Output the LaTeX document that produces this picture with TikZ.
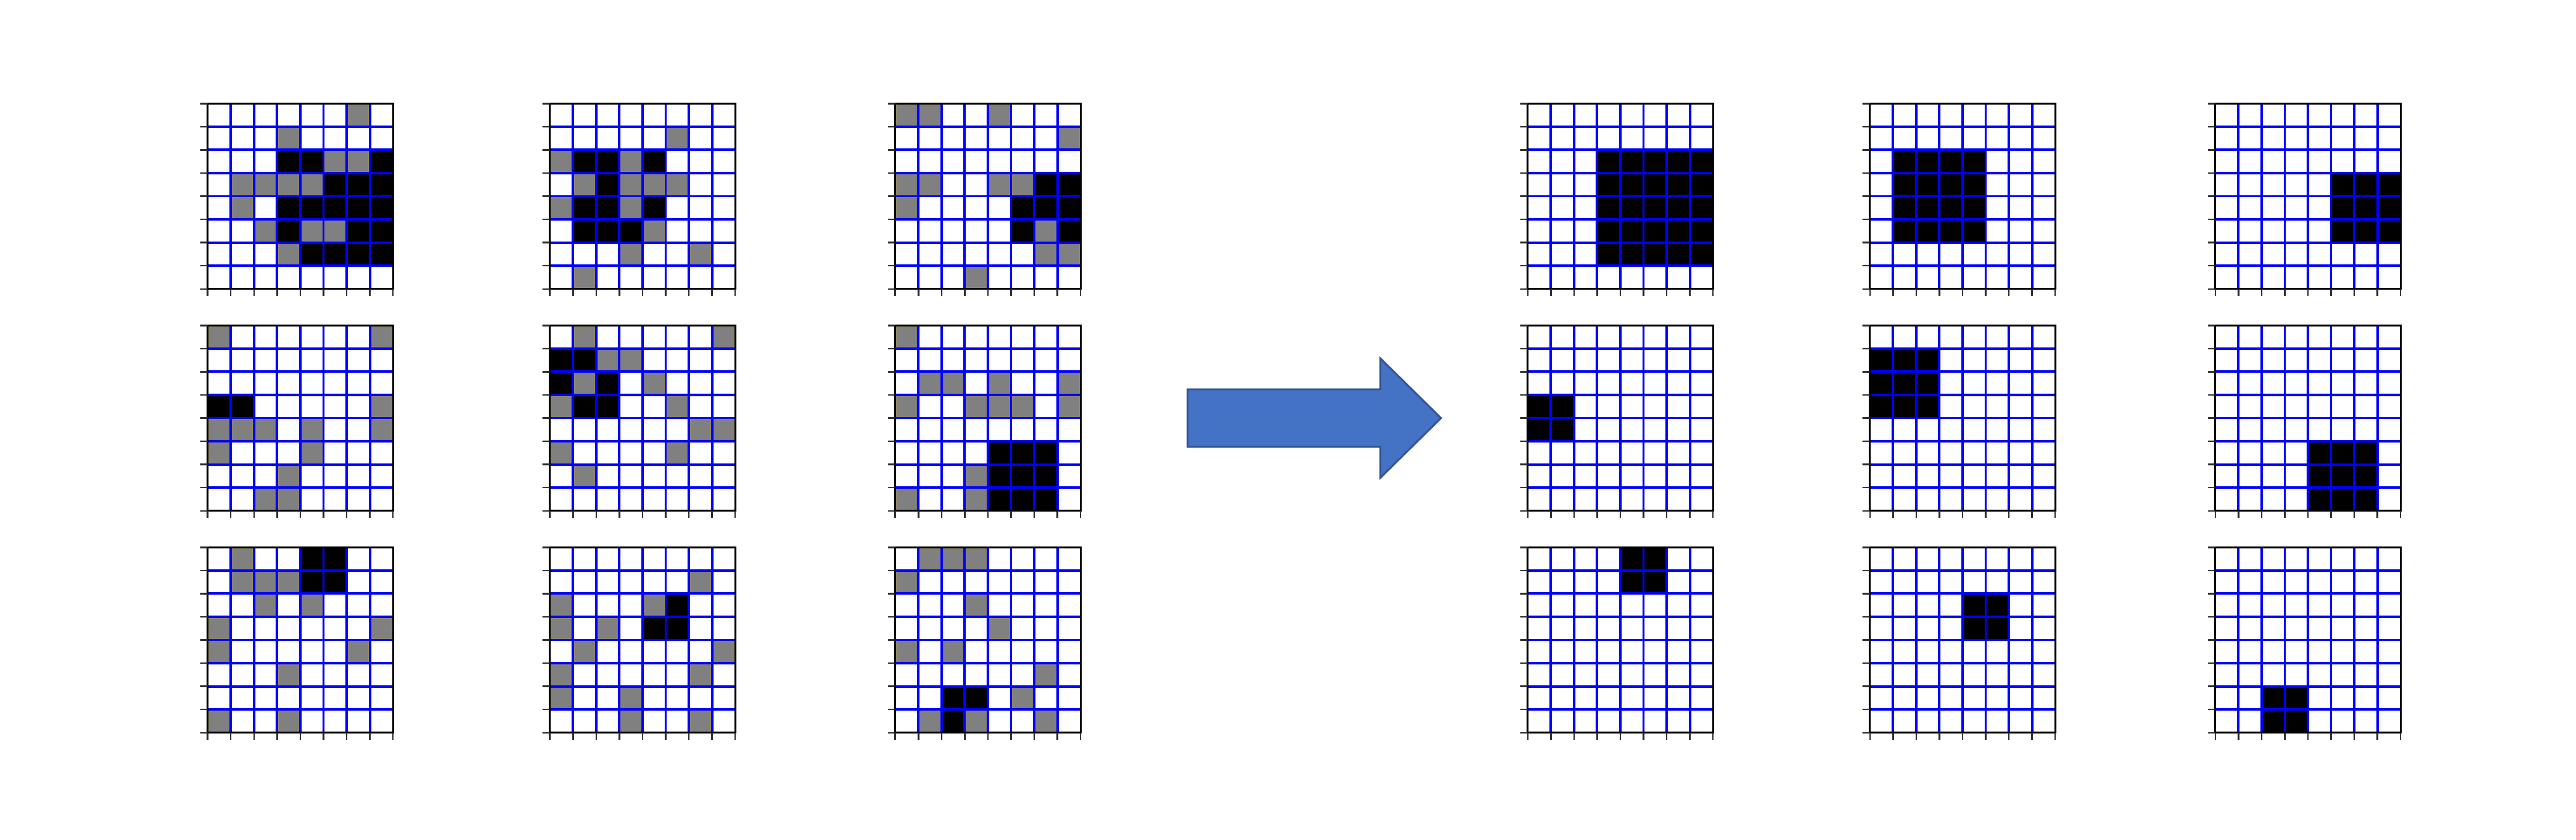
\documentclass[tikz,border=0pt]{standalone}
\usepackage{tikz}

\newcommand\cellsz{0.3656}
\definecolor{arrowfill}{HTML}{4472C4}
\definecolor{arrowline}{HTML}{2F528F}
\definecolor{cellgray}{HTML}{808080}
\definecolor{celledge}{HTML}{9A9260}

\tikzset{
  gridline/.style={blue,line width=1.1pt},
  gridframe/.style={black,line width=0.8pt},
  gridtick/.style={black!85,line width=0.7pt},
  graycell/.style={fill=cellgray,draw=celledge,line width=0.3pt},
  blackcell/.style={fill=black},
  bigarrow/.style={fill=arrowfill,draw=arrowline,line width=0.8pt,line join=miter}
}

% 8x8 grid with ticks, top left corner at (#1,#2)
\newcommand{\cellgrid}[2]{%
  \foreach \i in {1,...,7} {
    \draw[gridline] (#1+\i*\cellsz,#2) -- ++(0,-8*\cellsz);
    \draw[gridline] (#1,#2-\i*\cellsz) -- ++(8*\cellsz,0);
  }
  \draw[gridframe] (#1,#2) rectangle ++(8*\cellsz,-8*\cellsz);
  \foreach \i in {0,...,8} {
    \draw[gridtick] (#1,#2-\i*\cellsz) -- ++(-0.12,0);
    \draw[gridtick] (#1+\i*\cellsz,#2-8*\cellsz) -- ++(0,-0.11);
  }
}

% noisy input: gray cells #3, black cells #4 (col/row from top left)
\newcommand{\noisygrid}[4]{%
  \foreach \c/\r in {#3}
    \filldraw[graycell] (#1+\c*\cellsz+0.02,#2-\r*\cellsz-0.02) rectangle ++(\cellsz-0.04,-\cellsz+0.04);
  \foreach \c/\r in {#4}
    \fill[blackcell] (#1+\c*\cellsz,#2-\r*\cellsz) rectangle ++(\cellsz,-\cellsz);
  \cellgrid{#1}{#2}
}

% clean output: one black block from cell (#3,#4) to cell (#5,#6)
\newcommand{\blockgrid}[6]{%
  \fill[blackcell] (#1+#3*\cellsz,#2-#4*\cellsz) rectangle (#1+#5*\cellsz+\cellsz,#2-#6*\cellsz-\cellsz);
  \cellgrid{#1}{#2}
}

\begin{document}
\begin{tikzpicture}
    \useasboundingbox (0,0) rectangle (40.65,13.24);

    % inputs, first row
    \noisygrid{3.277}{11.607}{6/0,3/1,5/2,6/2,1/3,2/3,3/3,4/3,1/4,2/5,4/5,5/5,3/6}{3/2,4/2,7/2,5/3,6/3,7/3,3/4,4/4,5/4,6/4,7/4,3/5,6/5,7/5,4/6,5/6,6/6,7/6}
    \noisygrid{8.677}{11.607}{5/1,0/2,3/2,1/3,3/3,4/3,5/3,0/4,3/4,4/5,3/6,6/6,1/7}{1/2,2/2,4/2,2/3,1/4,2/4,4/4,1/5,2/5,3/5}
    \noisygrid{14.127}{11.607}{0/0,1/0,4/0,7/1,0/3,1/3,4/3,5/3,0/4,6/5,6/6,7/6,3/7}{6/3,7/3,5/4,6/4,7/4,5/5,7/5}

    % inputs, second row
    \noisygrid{3.277}{8.107}{0/0,7/0,7/3,0/4,1/4,2/4,4/4,7/4,0/5,4/5,3/6,2/7,3/7}{0/3,1/3}
    \noisygrid{8.677}{8.107}{1/0,7/0,2/1,3/1,1/2,4/2,0/3,5/3,6/4,7/4,0/5,5/5,1/6}{0/1,1/1,0/2,2/2,1/3,2/3}
    \noisygrid{14.127}{8.107}{0/0,1/2,2/2,4/2,7/2,0/3,3/3,4/3,5/3,7/3,3/6,0/7,3/7}{4/5,5/5,6/5,4/6,5/6,6/6,4/7,5/7,6/7}

    % inputs, third row
    \noisygrid{3.277}{4.607}{1/0,1/1,2/1,3/1,2/2,4/2,0/3,7/3,0/4,6/4,3/5,0/7,3/7}{4/0,5/0,4/1,5/1}
    \noisygrid{8.677}{4.607}{6/1,0/2,4/2,0/3,2/3,1/4,7/4,0/5,6/5,0/6,3/6,3/7,6/7}{5/2,4/3,5/3}
    \noisygrid{14.127}{4.607}{1/0,2/0,3/0,0/1,3/2,4/3,0/4,2/4,6/5,5/6,1/7,3/7,6/7}{2/6,3/6,2/7}

    % block arrow
    \filldraw[bigarrow] (18.74,6.19)--(18.74,7.10)--(21.78,7.10)--(21.78,7.59)--(22.74,6.645)--(21.78,5.70)--(21.78,6.19)--cycle;

    % outputs
    \blockgrid{24.107}{11.607}{3}{2}{7}{6}
    \blockgrid{29.507}{11.607}{1}{2}{4}{5}
    \blockgrid{34.957}{11.607}{5}{3}{7}{5}

    \blockgrid{24.107}{8.107}{0}{3}{1}{4}
    \blockgrid{29.507}{8.107}{0}{1}{2}{3}
    \blockgrid{34.957}{8.107}{4}{5}{6}{7}

    \blockgrid{24.107}{4.607}{4}{0}{5}{1}
    \blockgrid{29.507}{4.607}{4}{2}{5}{3}
    \blockgrid{34.957}{4.607}{2}{6}{3}{7}
\end{tikzpicture}
\end{document}
